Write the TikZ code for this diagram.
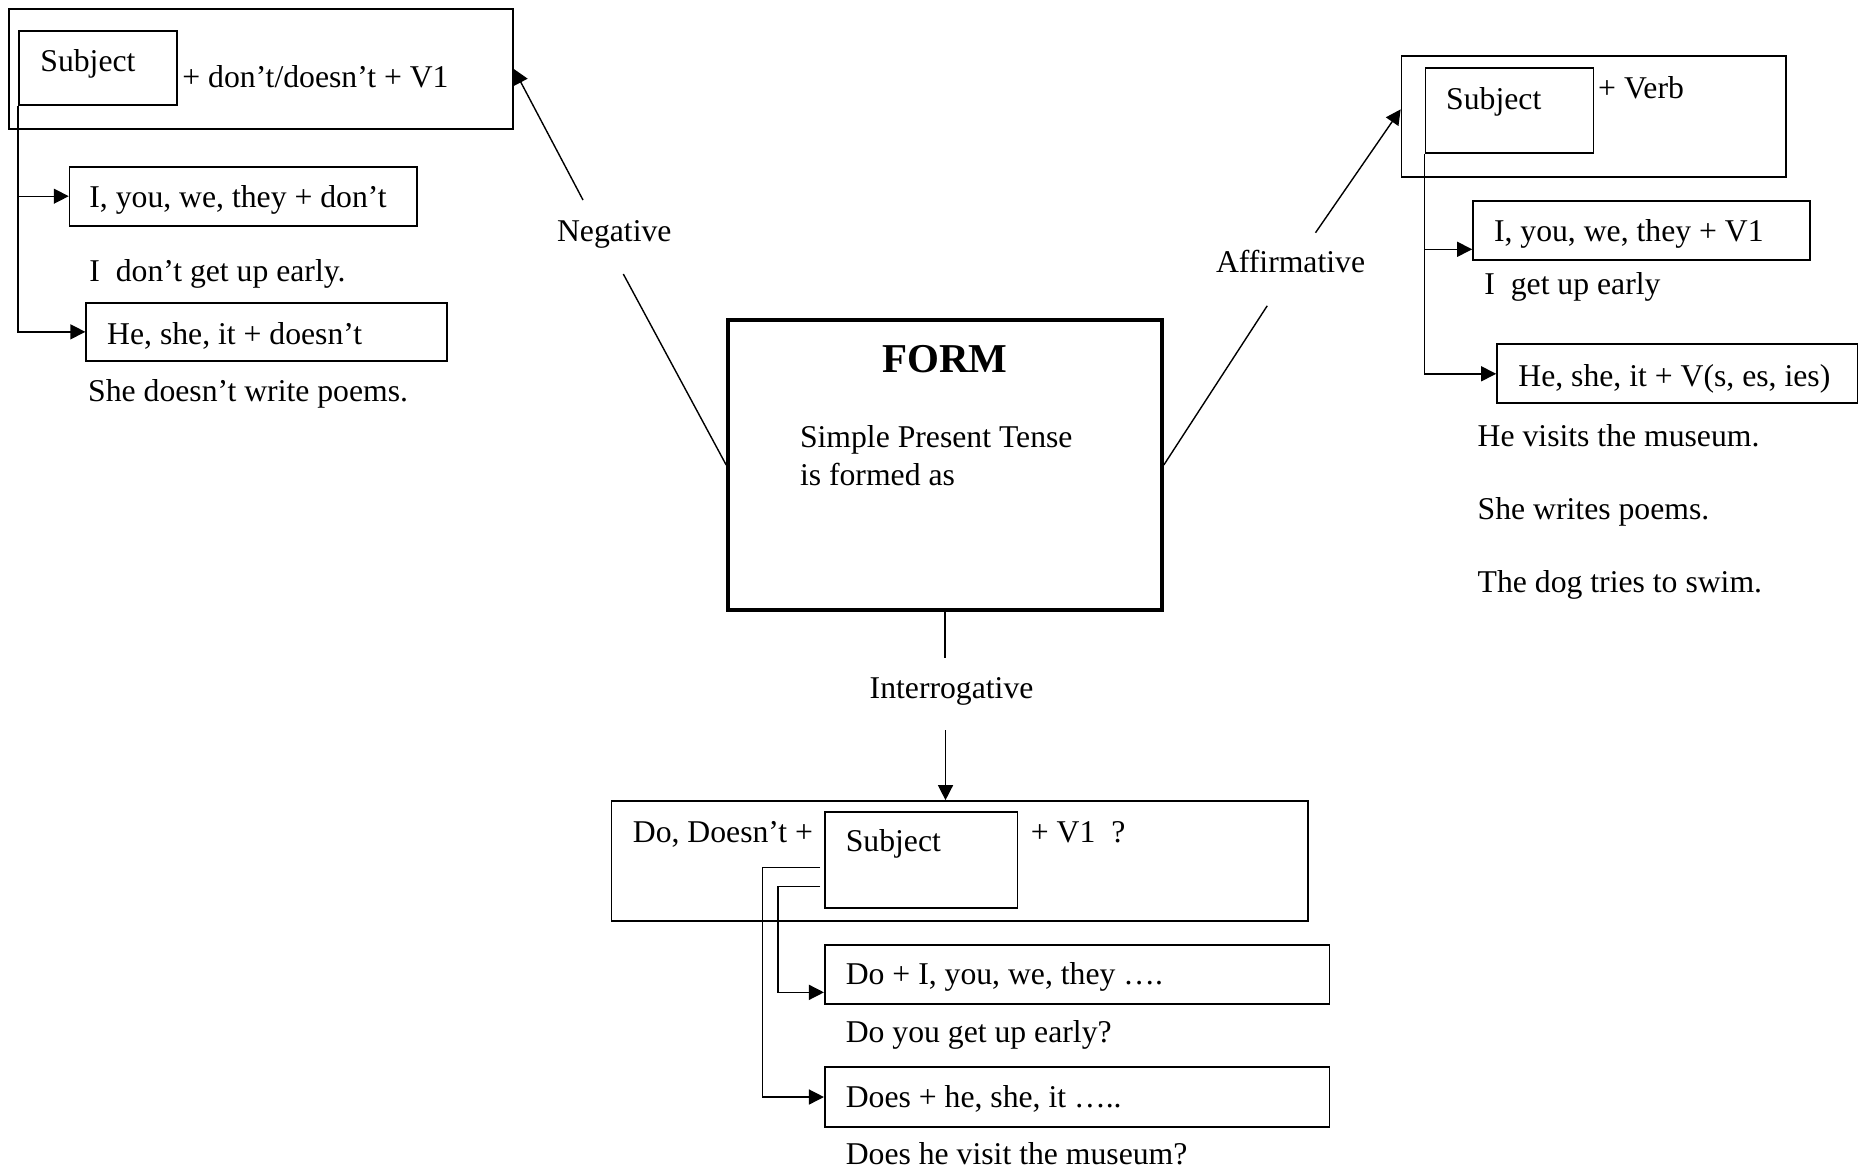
\documentclass[tikz,border=0pt]{standalone}
\usepackage{fontspec}
\setmainfont{Liberation Serif}
\usetikzlibrary{arrows.meta,fit,calc}
\begin{document}
\begin{tikzpicture}[x=0.5pt,y=-0.5pt,
  box/.style={draw, line width=0.85pt, inner sep=0pt},
  formbox/.style={draw, line width=2pt, inner sep=0pt},
  txt/.style={anchor=base west, inner sep=0pt, font=\fontsize{15.85}{19}\selectfont},
  link/.style={line width=0.7pt},
  arr/.style={link, -{Triangle[length=7.5pt,width=7.5pt]}}]
\useasboundingbox (0,0) rectangle (1861,1173);

% ---- central box ----
\node[formbox, fit={(728.2,320) (1161.8,610)}] (form) {};
\node[anchor=base, inner sep=0pt, font=\fontsize{20.5}{24}\selectfont\bfseries] (formT) at (945,372.5) {FORM};
\node[txt] (formL1) at (799.6,447.5) {Simple Present Tense};
\node[txt] (formL2) at (799.6,485) {is formed as};

% ---- negative ----
\node[box, fit={(8.7,9.3) (513,128.7)}] (negOuter) {};
\node[box, fit={(19,30.7) (177,104.7)}] (negSubj) {};
\node[txt] (negSubjT) at (40,71.5) {Subject};
\node[txt] (negRule) at (182,87) {+ don’t/doesn’t + V1};
\node[box, fit={(69.6,166.7) (417,225.7)}] (negA) {};
\node[txt] (negAT) at (89,207.5) {I, you, we, they + don’t};
\node[txt] (negAEx) at (89,281) {I\ \ don’t get up early.};
\node[box, fit={(86.2,302.7) (446.8,361)}] (negB) {};
\node[txt] (negBT) at (106.8,344) {He, she, it + doesn’t};
\node[txt] (negBEx) at (87.8,401) {She doesn’t write poems.};
\node[txt] (neg) at (556.7,241.5) {Negative};

\draw[arr] (negSubj.south west) |- (negB.west);
\draw[arr] (negSubj.south west |- negA.west) -- (negA.west);
\coordinate (negFrom) at (583,200);
\coordinate (negLow) at (623.3,274);
\draw[arr] (negFrom) -- (negOuter.east);
\draw[link] (negLow) -- (form.west);

% ---- affirmative ----
\node[box, fit={(1401.5,56) (1786,176.7)}] (affOuter) {};
\node[box, fit={(1425.4,67.7) (1593.5,152.7)}] (affSubj) {};
\node[txt] (affSubjT) at (1445.8,109) {Subject};
\node[txt] (affRule) at (1597.8,98) {+ Verb};
\node[box, fit={(1473,201) (1809.7,260)}] (affA) {};
\node[txt] (affAT) at (1493.6,241) {I, you, we, they + V1};
\node[txt] (affAEx) at (1484,294) {I\ \ get up early};
\node[box, fit={(1497,344.3) (1857.5,403.3)}] (affB) {};
\node[txt] (affBT) at (1518,386) {He, she, it + V(s, es, ies)};
\node[txt] (affEx1) at (1477.3,446) {He visits the museum.};
\node[txt] (affEx2) at (1477.3,519) {She writes poems.};
\node[txt] (affEx3) at (1477.3,592.5) {The dog tries to swim.};
\node[txt] (aff) at (1215.6,272.5) {Affirmative};

\coordinate (affAin) at ($(affA.west)+(0,18.8)$);
\draw[arr] (affSubj.south west) |- (affB.west);
\draw[arr] (affSubj.south west |- affAin) -- (affAin);
\coordinate (affFrom) at (1315.5,232.7);
\coordinate (affLow) at (1267.2,305.8);
\draw[arr] (affFrom) -- ($(affOuter.west)+(0,-7)$);
\draw[link] (affLow) -- (form.east);

% ---- interrogative ----
\node[txt] (intr) at (869.3,698) {Interrogative};
\node[box, fit={(611.5,801) (1307.9,921)}] (intOuter) {};
\node[box, fit={(824.8,811.7) (1017.6,907.7)}] (intSubj) {};
\node[txt] (intPre) at (632.5,842.5) {Do, Doesn’t +};
\node[txt] (intSubjT) at (845.4,851.5) {Subject};
\node[txt] (intPost) at (1030.5,842.5) {+ V1\ \ ?};
\node[box, fit={(824.8,945) (1329.4,1004.3)}] (intA) {};
\node[txt] (intAT) at (845.4,984) {Do + I, you, we, they ….};
\node[txt] (intAEx) at (845.4,1042.5) {Do you get up early?};
\node[box, fit={(824.8,1067.3) (1329.4,1126.7)}] (intB) {};
\node[txt] (intBT) at (845.4,1107.5) {Does + he, she, it …..};
\node[txt] (intBEx) at (845.4,1164) {Does he visit the museum?};

\draw[link] (form.south) -- ++(0,46);
\coordinate (intFrom) at (945.5,730);
\draw[arr] (intFrom) -- (intFrom |- intOuter.north);
\coordinate (qa) at (820,867.7);
\coordinate (qb) at (820,886.7);
\draw[arr] (qa) -- ++(-57.4,0) |- (intB.west);
\draw[arr] (qb) -- ++(-42,0) |- ($(intA.west)+(0,17.7)$);
\end{tikzpicture}
\end{document}
